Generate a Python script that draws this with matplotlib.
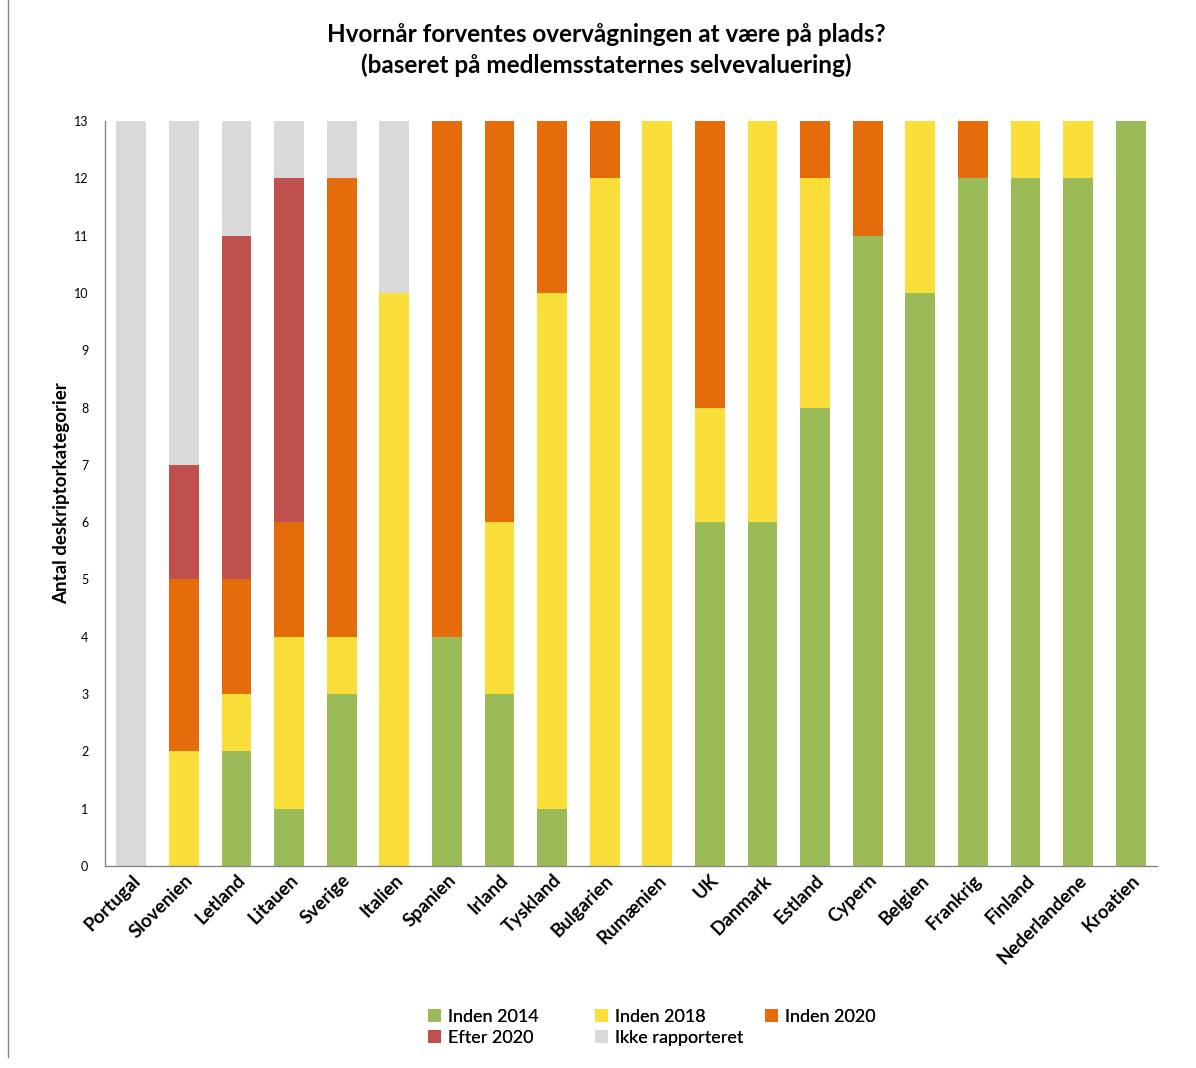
import matplotlib
matplotlib.use("Agg")
import matplotlib.pyplot as plt
import numpy as np

plt.rcParams["font.family"] = ["Lato", "DejaVu Sans"]

lande = ["Portugal", "Slovenien", "Letland", "Litauen", "Sverige", "Italien",
         "Spanien", "Irland", "Tyskland", "Bulgarien", "Rumænien", "UK",
         "Danmark", "Estland", "Cypern", "Belgien", "Frankrig", "Finland",
         "Nederlandene", "Kroatien"]

inden_2014 = [0, 0, 2, 1, 3, 0, 4, 3, 1, 0, 0, 6, 6, 8, 11, 10, 12, 12, 12, 13]
inden_2018 = [0, 2, 1, 3, 1, 10, 0, 3, 9, 12, 13, 2, 7, 4, 0, 3, 0, 1, 1, 0]
inden_2020 = [0, 3, 2, 2, 8, 0, 9, 7, 3, 1, 0, 5, 0, 1, 2, 0, 1, 0, 0, 0]
efter_2020 = [0, 2, 6, 6, 0, 0, 0, 0, 0, 0, 0, 0, 0, 0, 0, 0, 0, 0, 0, 0]
ikke_rapp = [13, 6, 2, 1, 1, 3, 0, 0, 0, 0, 0, 0, 0, 0, 0, 0, 0, 0, 0, 0]

serier = [
    ("Inden 2014", inden_2014, "#9BBB59"),
    ("Inden 2018", inden_2018, "#FADF3A"),
    ("Inden 2020", inden_2020, "#E46C0A"),
    ("Efter 2020", efter_2020, "#C0504D"),
    ("Ikke rapporteret", ikke_rapp, "#D9D9D9"),
]

fig = plt.figure(figsize=(11.96, 10.68), dpi=100)
ax = fig.add_axes([105 / 1196, 1 - 866 / 1068, 1052 / 1196, 745 / 1068])

x = np.arange(len(lande))
bund = np.zeros(len(lande))
for navn, vaerdier, farve in serier:
    v = np.array(vaerdier, dtype=float)
    ax.bar(x, v, width=0.57, bottom=bund, color=farve, label=navn, linewidth=0)
    bund += v

ax.set_xlim(-0.5, len(lande) - 0.5)
ax.set_ylim(0, 13)
ax.set_yticks(range(0, 14))
ax.tick_params(axis="y", length=0, labelsize=9, pad=12, colors="#000000")
ax.tick_params(axis="x", length=0, pad=4)
ax.set_xticks(x)
ax.set_xticklabels(lande, rotation=45, ha="right", rotation_mode="anchor",
                   fontsize=13.5, fontweight="bold")
for s in ["top", "right"]:
    ax.spines[s].set_visible(False)
for s in ["left", "bottom"]:
    ax.spines[s].set_color("#868686")
    ax.spines[s].set_linewidth(1)

ax.set_ylabel("Antal deskriptorkategorier", fontsize=13.5, fontweight="bold",
              labelpad=3)

fig.text(0.507, 1 - 50 / 1068,
         "Hvornår forventes overvågningen at være på plads?\n"
         "(baseret på medlemsstaternes selvevaluering)",
         ha="center", va="center", fontsize=17.5, fontweight="bold",
         linespacing=1.35)

# legenden i tre faste kolonner med lige stor bredde
handles, labels = ax.get_legend_handles_labels()
kolonner = [[0, 3], [1, 4], [2]]
kolonne_x = [428, 595, 765]
for idx, kx in zip(kolonner, kolonne_x):
    leg = fig.legend([handles[i] for i in idx], [labels[i] for i in idx],
                     loc="upper left", bbox_to_anchor=(kx / 1196, 1 - 1009 / 1068),
                     frameon=False, fontsize=13, handlelength=0.7,
                     handleheight=0.7, handletextpad=0.4, labelspacing=0.25,
                     borderpad=0, borderaxespad=0)
    fig.add_artist(leg)

# lodret streg i venstre kant
fig.add_artist(plt.Line2D([8 / 1196, 8 / 1196], [0.01, 1.0],
                          transform=fig.transFigure, color="#868686", lw=1))

fig.savefig("out.png", dpi=100)
